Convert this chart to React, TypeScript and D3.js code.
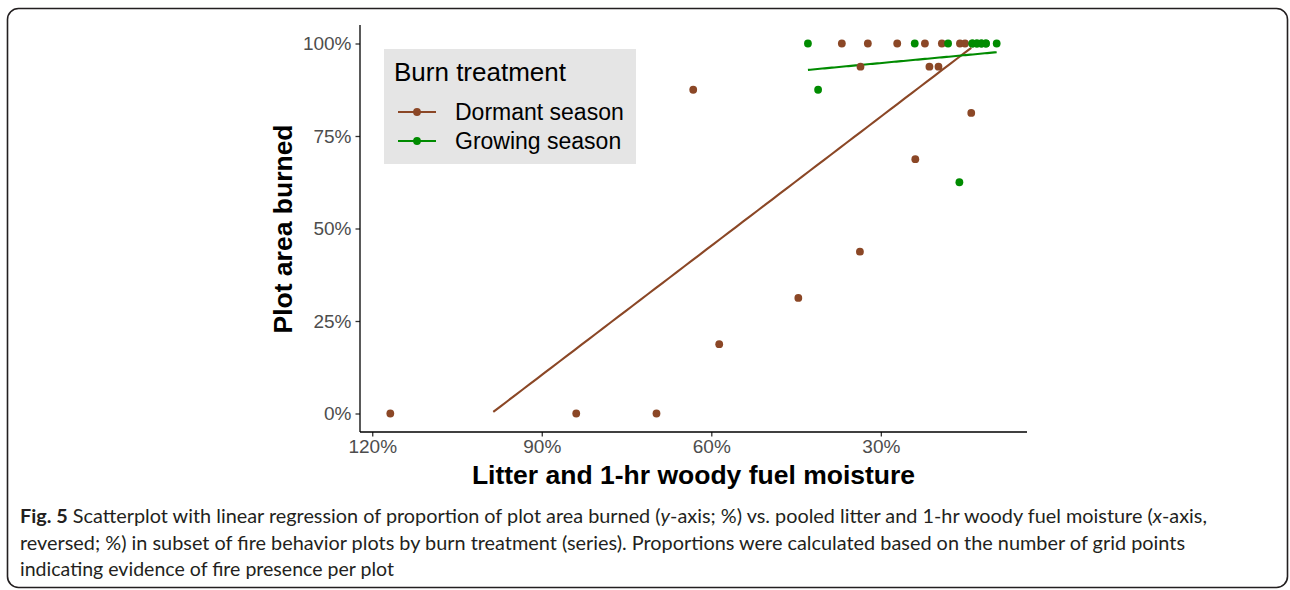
import React, { useEffect, useRef } from 'react';
import * as d3 from 'd3';

// fuel moisture (%) and plot area burned (%)
const dormantMoisture = [116.8, 83.9, 69.7, 58.6, 63.2, 44.6, 33.7, 23.9, 14.0, 33.6, 21.4, 19.8, 36.9, 32.3, 27.1, 22.2, 19.2, 16.0, 15.1];
const dormantBurned = [0, 0, 0, 18.75, 87.5, 31.25, 43.75, 68.75, 81.25, 93.75, 93.75, 93.75, 100, 100, 100, 100, 100, 100, 100];

const growingMoisture = [42.9, 24.0, 18.1, 13.8, 13.8, 13.0, 13.0, 12.2, 12.2, 11.4, 11.4, 9.5, 41.1, 16.1];
const growingBurned = [100, 100, 100, 100, 100, 100, 100, 100, 100, 100, 100, 100, 87.5, 62.5];

const seriesNames = ['Dormant season', 'Growing season'];
const seriesColors = ['#8B4726', '#008B00'];
const moistureTicks = [120, 90, 60, 30];
const burnedTicks = [0, 25, 50, 75, 100];

const captionLines = [
    [
        { t: 'Fig. 5', b: true },
        { t: ' Scatterplot with linear regression of proportion of plot area burned (' },
        { t: 'y', i: true },
        { t: '-axis; %) vs. pooled litter and 1-hr woody fuel moisture (' },
        { t: 'x', i: true },
        { t: '-axis,' },
    ],
    [{ t: 'reversed; %) in subset of fire behavior plots by burn treatment (series). Proportions were calculated based on the number of grid points' }],
    [{ t: 'indicating evidence of fire presence per plot' }],
];

const fitLine = (xs: number[], ys: number[]) => {
    const mx = d3.mean(xs)!;
    const my = d3.mean(ys)!;
    let sxy = 0, sxx = 0;
    xs.forEach((x, i) => {
        sxy += (x - mx) * (ys[i] - my);
        sxx += (x - mx) * (x - mx);
    });
    const slope = sxy / sxx;
    const [lo, hi] = d3.extent(xs) as [number, number];
    // same as geom_smooth: 80 points, drop what falls outside the y limits
    return d3.range(80)
        .map(k => lo + (k * (hi - lo)) / 79)
        .map(x => ({ x, y: my + slope * (x - mx) }))
        .filter(p => p.y >= 0 && p.y <= 100);
};

const Chart = () => {
    const svgRef = useRef<SVGSVGElement>(null);

    useEffect(() => {
        const svg = d3.select(svgRef.current);
        svg.selectAll('*').remove();

        svg.append('rect')
            .attr('x', 7.5).attr('y', 8.5)
            .attr('width', 1280).attr('height', 579)
            .attr('rx', 11)
            .attr('fill', 'none')
            .attr('stroke', '#231f20')
            .attr('stroke-width', 1.6);

        const left = 360, right = 1027, top = 25, bottom = 432;

        const allX = [...dormantMoisture, ...growingMoisture];
        const [xMin, xMax] = d3.extent(allX) as [number, number];
        const pad = (xMax - xMin) * 0.05;
        const x = d3.scaleLinear().domain([xMax + pad, xMin - pad]).range([left, right]);
        const y = d3.scaleLinear().domain([-5, 105]).range([bottom, top]);

        const axisFont = 'Liberation Sans, Arial, sans-serif';

        // axes
        const xAxis = svg.append('g')
            .attr('transform', `translate(0, ${bottom})`)
            .call(d3.axisBottom(x).tickValues(moistureTicks).tickSize(4.5).tickPadding(3).tickFormat(d => `${d}%`));
        const yAxis = svg.append('g')
            .attr('transform', `translate(${left}, 0)`)
            .call(d3.axisLeft(y).tickValues(burnedTicks).tickSize(4.5).tickPadding(4).tickFormat(d => `${d}%`));
        [xAxis, yAxis].forEach(ax => {
            ax.select('.domain').remove();
            ax.selectAll('.tick line').attr('stroke', '#333').attr('stroke-width', 1.3);
            ax.selectAll('.tick text')
                .attr('fill', '#4d4d4d')
                .style('font-family', axisFont)
                .style('font-size', '19px');
        });
        svg.append('line').attr('x1', left).attr('x2', right).attr('y1', bottom).attr('y2', bottom)
            .attr('stroke', '#000').attr('stroke-width', 1.3);
        svg.append('line').attr('x1', left).attr('x2', left).attr('y1', top).attr('y2', bottom)
            .attr('stroke', '#000').attr('stroke-width', 1.3);

        // axis titles
        svg.append('text')
            .attr('x', (left + right) / 2).attr('y', 484)
            .attr('text-anchor', 'middle')
            .style('font-family', axisFont).style('font-weight', 'bold').style('font-size', '26.5px')
            .text('Litter and 1-hr woody fuel moisture');
        svg.append('text')
            .attr('transform', `translate(292, 229) rotate(-90)`)
            .attr('text-anchor', 'middle')
            .style('font-family', axisFont).style('font-weight', 'bold').style('font-size', '26.5px')
            .text('Plot area burned');

        // regression lines and points
        const series = [
            { xs: dormantMoisture, ys: dormantBurned },
            { xs: growingMoisture, ys: growingBurned },
        ];
        const line = d3.line<{ x: number; y: number }>().x(d => x(d.x)).y(d => y(d.y));
        series.forEach((s, i) => {
            svg.append('path')
                .attr('d', line(fitLine(s.xs, s.ys)))
                .attr('fill', 'none')
                .attr('stroke', seriesColors[i])
                .attr('stroke-width', 2.1);
        });
        series.forEach((s, i) => {
            svg.append('g').selectAll('circle')
                .data(s.xs.map((v, k) => ({ x: v, y: s.ys[k] })))
                .enter().append('circle')
                .attr('cx', d => x(d.x))
                .attr('cy', d => y(d.y))
                .attr('r', 3.9)
                .attr('fill', seriesColors[i]);
        });

        // legend
        const legend = svg.append('g').attr('transform', 'translate(384, 49)');
        legend.append('rect').attr('width', 252).attr('height', 115).attr('fill', '#e5e5e5');
        legend.append('text')
            .attr('x', 10).attr('y', 32)
            .style('font-family', axisFont).style('font-size', '26px')
            .text('Burn treatment');
        seriesNames.forEach((name, i) => {
            const cy = 63 + i * 29;
            legend.append('line')
                .attr('x1', 14).attr('x2', 52).attr('y1', cy).attr('y2', cy)
                .attr('stroke', seriesColors[i]).attr('stroke-width', 2.1);
            legend.append('circle').attr('cx', 33).attr('cy', cy).attr('r', 3.9).attr('fill', seriesColors[i]);
            legend.append('text')
                .attr('x', 71).attr('y', cy + 8.3)
                .style('font-family', axisFont).style('font-size', '23px')
                .text(name);
        });

        // caption
        const captionWidths = [1187, 1165, 374];
        captionLines.forEach((parts, li) => {
            const t = svg.append('text')
                .attr('x', 20).attr('y', 523 + li * 26.5)
                .attr('textLength', captionWidths[li])
                .attr('lengthAdjust', 'spacingAndGlyphs')
                .attr('fill', '#231f20')
                .style('font-family', 'Lato, sans-serif')
                .style('font-size', '19px');
            parts.forEach((p: any) => {
                t.append('tspan')
                    .style('font-weight', p.b ? 'bold' : 'normal')
                    .style('font-style', p.i ? 'italic' : 'normal')
                    .text(p.t);
            });
        });
    }, []);

    return <svg ref={svgRef} width={1290} height={590} style={{ position: 'absolute', left: 0, top: 0 }}></svg>;
};

export default function App() {
    return <Chart />;
}
